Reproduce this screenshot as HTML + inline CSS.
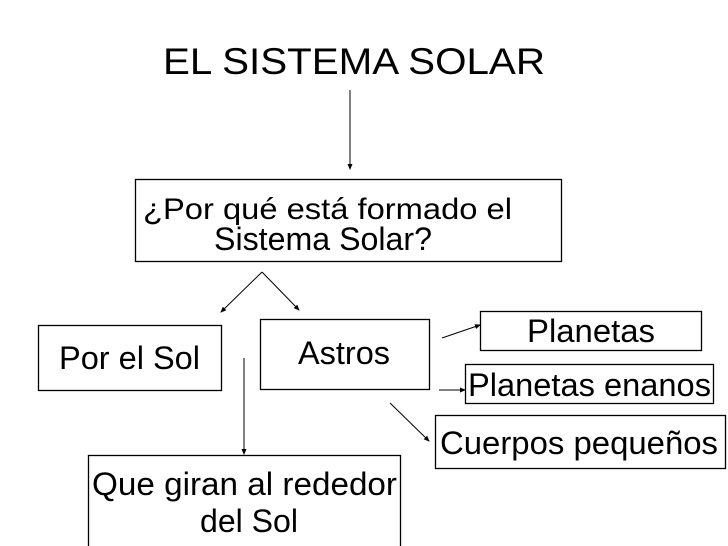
<!DOCTYPE html>
<html><head><meta charset="utf-8"><style>body{margin:0;background:#fff}svg{display:block}</style></head><body>
<svg width="728" height="546" viewBox="0 0 728 546" xmlns="http://www.w3.org/2000/svg" font-family="Liberation Sans, Arial, sans-serif" fill="#000">
<defs><marker id="a" markerWidth="6" markerHeight="6" refX="5" refY="3" orient="auto" markerUnits="userSpaceOnUse"><path d="M0,0.5 L6,3 L0,5.5 z" fill="#000"/></marker></defs>
<g fill="none" stroke="#000" stroke-width="1.3">
<rect x="135.5" y="179.5" width="426" height="82"/>
<rect x="38.5" y="325.5" width="183" height="65"/>
<rect x="260.5" y="319.5" width="169" height="70"/>
<rect x="480.5" y="311.5" width="221" height="39"/>
<rect x="465.5" y="364.5" width="248" height="39"/>
<rect x="435.5" y="415.5" width="290" height="53"/>
<rect x="88.5" y="455.5" width="312" height="100"/>
</g>
<g stroke="#000" stroke-width="1" marker-end="url(#a)">
<line x1="350" y1="90" x2="350" y2="169"/>
<line x1="262" y1="272" x2="221" y2="312"/>
<line x1="262" y1="272" x2="299" y2="310"/>
<line x1="244" y1="358" x2="244" y2="454"/>
<line x1="442" y1="338" x2="480" y2="325"/>
<line x1="439" y1="390" x2="465" y2="390"/>
<line x1="390" y1="403" x2="429" y2="441"/>
</g>
<text x="163" y="74" font-size="37" textLength="382" lengthAdjust="spacingAndGlyphs">EL SISTEMA SOLAR</text>
<text x="143" y="219" font-size="30" textLength="369" lengthAdjust="spacingAndGlyphs">¿Por qué está formado el</text>
<text x="214" y="250" font-size="32" textLength="218" lengthAdjust="spacingAndGlyphs">Sistema Solar?</text>
<text x="59" y="369" font-size="32" textLength="141" lengthAdjust="spacingAndGlyphs">Por el Sol</text>
<text x="298" y="364" font-size="32" textLength="92" lengthAdjust="spacingAndGlyphs">Astros</text>
<text x="527" y="342" font-size="32" textLength="128" lengthAdjust="spacingAndGlyphs">Planetas</text>
<text x="468" y="396" font-size="32" textLength="243" lengthAdjust="spacingAndGlyphs">Planetas enanos</text>
<text x="440" y="454" font-size="32" textLength="278" lengthAdjust="spacingAndGlyphs">Cuerpos pequeños</text>
<text x="92" y="495" font-size="32" textLength="305" lengthAdjust="spacingAndGlyphs">Que giran al rededor</text>
<text x="200" y="532" font-size="32" textLength="98" lengthAdjust="spacingAndGlyphs">del Sol</text>
</svg>
</body></html>
